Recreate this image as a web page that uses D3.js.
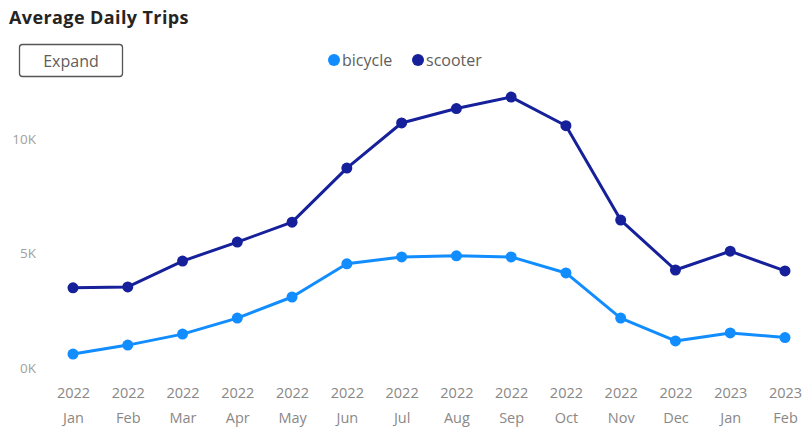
<!DOCTYPE html>
<html>
<head>
<meta charset="utf-8">
<script src="https://cdn.jsdelivr.net/npm/d3@7"></script>
<style>
  html, body { margin: 0; padding: 0; background: #fff; }
  svg { display: block; font-family: "Open Sans", "Noto Sans", sans-serif; }
</style>
</head>
<body>
<svg id="chart" width="807" height="433"></svg>
<script>
// months shown on the x axis (year on top line, month below)
const years = ["2022","2022","2022","2022","2022","2022","2022","2022","2022","2022","2022","2022","2023","2023"];
const months = ["Jan","Feb","Mar","Apr","May","Jun","Jul","Aug","Sep","Oct","Nov","Dec","Jan","Feb"];

// average daily trips per series
const bicycle = [610, 1000, 1480, 2180, 3100, 4550, 4850, 4900, 4850, 4150, 2180, 1180, 1530, 1330];
const scooter = [3500, 3540, 4670, 5500, 6370, 8730, 10700, 11330, 11830, 10580, 6460, 4280, 5100, 4240];

const seriesNames = ["bicycle", "scooter"];
const seriesColors = ["#118DFF", "#15209A"];
const yTicks = [0, 5000, 10000];

const svg = d3.select("#chart");
const keys = months.map((m, i) => i);

const x = d3.scalePoint().domain(keys).range([73, 785]);
const y = d3.scaleLinear().domain([0, 10000]).range([368, 139]);

// title
svg.append("text")
  .attr("x", 9)
  .attr("y", 24)
  .style("font-size", "18px")
  .style("font-weight", "bold")
  .style("letter-spacing", "0.4px")
  .style("fill", "#252423")
  .text("Average Daily Trips");

// Expand button
svg.append("rect")
  .attr("x", 19.5)
  .attr("y", 44.5)
  .attr("width", 103)
  .attr("height", 32)
  .attr("rx", 3)
  .style("fill", "#fff")
  .style("stroke", "#555")
  .style("stroke-width", 1.3);
svg.append("text")
  .attr("x", 71)
  .attr("y", 67)
  .attr("text-anchor", "middle")
  .style("font-size", "16px")
  .style("fill", "#605E5C")
  .text("Expand");

// legend
const legend = svg.append("g");
const legendX = [334, 418];
seriesNames.forEach((name, i) => {
  legend.append("circle")
    .attr("cx", legendX[i])
    .attr("cy", 60)
    .attr("r", 6)
    .style("fill", seriesColors[i]);
  legend.append("text")
    .attr("x", legendX[i] + 8)
    .attr("y", 66)
    .style("font-size", "16px")
    .style("fill", "#605E5C")
    .text(name);
});

// y axis labels
const yAxis = d3.axisLeft(y)
  .tickValues(yTicks)
  .tickSize(0)
  .tickPadding(0)
  .tickFormat(d => (d / 1000) + "K");
const yAxisG = svg.append("g")
  .attr("transform", "translate(36,0)")
  .call(yAxis);
yAxisG.select(".domain").remove();
yAxisG.selectAll("text")
  .style("font-family", "\"Open Sans\", sans-serif")
  .style("font-size", "13.5px")
  .style("fill", "#A19F9D");

// x axis labels (two lines)
const xAxis = d3.axisBottom(x).tickSize(0).tickFormat("");
const xAxisG = svg.append("g")
  .attr("transform", "translate(0,380)")
  .call(xAxis);
xAxisG.select(".domain").remove();
xAxisG.selectAll(".tick").each(function(d) {
  const t = d3.select(this).append("text")
    .attr("text-anchor", "middle")
    .style("font-family", "\"Open Sans\", sans-serif")
    .style("font-size", "14.5px")
    .style("fill", "#8A8886");
  t.append("tspan").attr("x", 0).attr("y", 18).text(years[d]);
  t.append("tspan").attr("x", 0).attr("y", 43).text(months[d]);
});

// lines and markers
const line = d3.line()
  .x((d, i) => x(i))
  .y(d => y(d));

[bicycle, scooter].forEach((vals, s) => {
  svg.append("path")
    .datum(vals)
    .attr("d", line)
    .style("fill", "none")
    .style("stroke", seriesColors[s])
    .style("stroke-width", 3)
    .style("stroke-linejoin", "round");
  svg.append("g")
    .selectAll("circle")
    .data(vals)
    .join("circle")
    .attr("cx", (d, i) => x(i))
    .attr("cy", d => y(d))
    .attr("r", 5.5)
    .style("fill", seriesColors[s]);
});
</script>
</body>
</html>
